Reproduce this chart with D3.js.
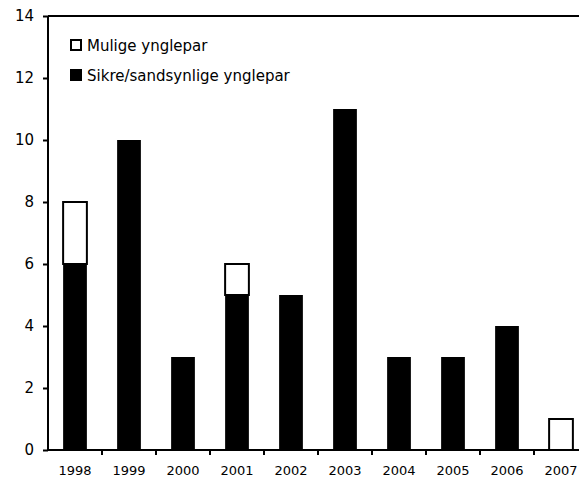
<!DOCTYPE html>
<html>
<head>
<meta charset="utf-8">
<script src="https://cdn.jsdelivr.net/npm/d3@7"></script>
<style>
  body { margin: 0; background: #fff; }
  svg text { font-family: "DejaVu Sans", Verdana, sans-serif; fill: #000; }
</style>
</head>
<body>
<svg id="chart" width="579" height="477"></svg>
<script>
// data
const years = ['1998','1999','2000','2001','2002','2003','2004','2005','2006','2007']
const sikre = [6, 10, 3, 5, 5, 11, 3, 3, 4, 0]
const mulige = [2, 0, 0, 1, 0, 0, 0, 0, 0, 1]
const yTicks = [0, 2, 4, 6, 8, 10, 12, 14]
const legendLabels = ['Mulige ynglepar', 'Sikre/sandsynlige ynglepar']

const margin = { top: 16, left: 48, bottom: 27 }
const plotW = 540
const height = 477 - margin.top - margin.bottom

const svg = d3.select('#chart')
const g = svg.append('g').attr('transform', `translate(${margin.left},${margin.top})`)

const x = d3.scaleBand().domain(years).range([0, plotW]).paddingInner(0.56).paddingOuter(0.28)
const y = d3.scaleLinear().domain([0, 14]).range([height, 0])

// stacked bars
const rows = years.map((yr, i) => ({ year: yr, sikre: sikre[i], mulige: mulige[i] }))
const stack = d3.stack().keys(['sikre', 'mulige'])(rows)

g.selectAll('g.layer')
  .data(stack)
  .join('g')
  .attr('class', 'layer')
  .attr('fill', d => d.key === 'sikre' ? '#000' : '#fff')
  .attr('stroke', d => d.key === 'sikre' ? 'none' : '#000')
  .attr('stroke-width', 2)
  .selectAll('rect')
  .data(d => d.filter(p => p[1] - p[0] > 0))
  .join('rect')
  .attr('x', d => x(d.data.year))
  .attr('width', x.bandwidth())
  .attr('y', d => y(d[1]))
  .attr('height', d => y(d[0]) - y(d[1]))

// top border
g.append('line')
  .attr('x1', 0).attr('x2', plotW)
  .attr('y1', 0).attr('y2', 0)
  .attr('stroke', '#000').attr('stroke-width', 2)

// y axis
const yAxis = d3.axisLeft(y).tickValues(yTicks).tickSize(5).tickPadding(9)
const yg = g.append('g').call(yAxis)
yg.select('.domain').attr('stroke-width', 2).attr('d', `M0,${height}V0`)
yg.selectAll('.tick line').attr('stroke-width', 2)
yg.selectAll('.tick text').style('font-size', '15px')

// x axis with ticks between categories
const xg = g.append('g').attr('transform', `translate(0,${height})`)
xg.append('line').attr('x1', 0).attr('x2', plotW).attr('stroke', '#000').attr('stroke-width', 2)
xg.selectAll('line.tk')
  .data(years.slice(1))
  .join('line')
  .attr('class', 'tk')
  .attr('x1', d => x(d) - x.step() * x.paddingInner() / 2)
  .attr('x2', d => x(d) - x.step() * x.paddingInner() / 2)
  .attr('y1', 0).attr('y2', 5)
  .attr('stroke', '#000').attr('stroke-width', 2)
xg.selectAll('text')
  .data(years)
  .join('text')
  .attr('x', d => x(d) + x.bandwidth() / 2)
  .attr('y', 25)
  .attr('text-anchor', 'middle')
  .style('font-size', '13px')
  .text(d => d)

// legend
const legend = svg.append('g').attr('transform', 'translate(70,39)')
legendLabels.forEach((lab, i) => {
  const row = legend.append('g').attr('transform', `translate(0,${i * 30})`)
  row.append('rect')
    .attr('x', 1).attr('y', 1).attr('width', 10).attr('height', 10)
    .attr('fill', i === 0 ? '#fff' : '#000')
    .attr('stroke', '#000').attr('stroke-width', 2)
  row.append('text')
    .attr('x', 17).attr('y', 12)
    .style('font-size', '15px')
    .text(lab)
})
</script>
</body>
</html>
